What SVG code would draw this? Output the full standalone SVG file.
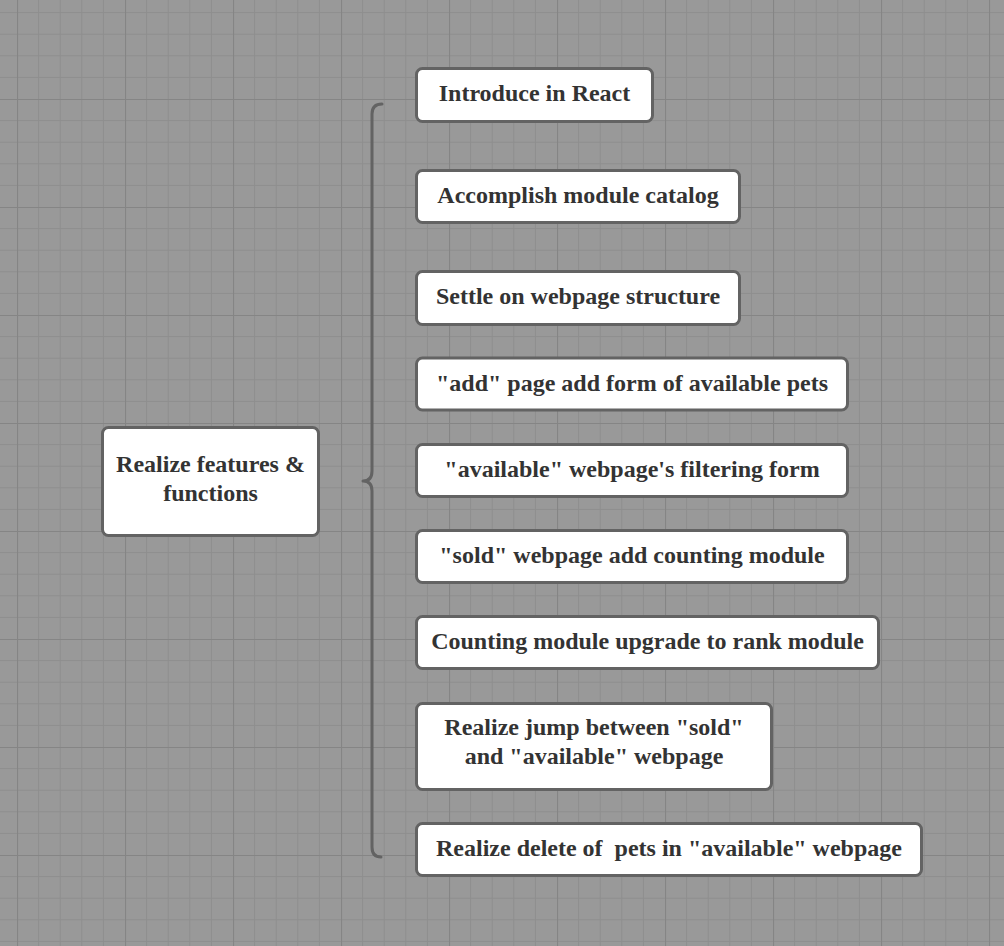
<svg xmlns="http://www.w3.org/2000/svg" width="1004" height="946" viewBox="0 0 1004 946">
<style>
.box{fill:#ffffff;stroke:#636363;stroke-width:3}
.t{font-family:"Liberation Serif","Times New Roman",serif;font-weight:bold;font-size:24px;fill:#333333;text-anchor:middle}
.brace{fill:none;stroke:#636363;stroke-width:3;stroke-linecap:round;stroke-linejoin:round}
</style>
<defs>
<pattern id="grid" x="17" y="-9" width="108" height="108" patternUnits="userSpaceOnUse">
<rect width="108" height="108" fill="#999999"/>
<path d="M21.6 0V108M43.2 0V108M64.8 0V108M86.4 0V108M0 21.6H108M0 43.2H108M0 64.8H108M0 86.4H108" stroke="#8e8e8e" stroke-width="1" fill="none"/>
<path d="M0.5 0V108M0 0.5H108" stroke="#858585" stroke-width="1.2" fill="none"/>
</pattern>
</defs>
<rect width="1004" height="946" fill="url(#grid)"/>
<g id="connectors">
<path class="brace" d="M382 104 Q372 104 372 114 L372 471 Q372 481 363 481 Q372 481 372 491 L372 847 Q372 857 381 857"/>
</g>
<g id="root">
<rect class="box" x="102.5" y="427.5" width="216" height="108" rx="6"/>
<text class="t" x="210.5" y="472">Realize features &amp;</text>
<text class="t" x="210.5" y="501">functions</text>
</g>
<g id="n1">
<rect class="box" x="416.5" y="68.5" width="236" height="53" rx="6"/>
<text class="t" x="534.5" y="101">Introduce in React</text>
</g>
<g id="n2">
<rect class="box" x="416.5" y="170.5" width="323" height="52" rx="6"/>
<text class="t" x="578" y="203">Accomplish module catalog</text>
</g>
<g id="n3">
<rect class="box" x="416.5" y="271.5" width="323" height="53" rx="6"/>
<text class="t" x="578" y="304">Settle on webpage structure</text>
</g>
<g id="n4">
<rect class="box" x="416.5" y="358" width="431" height="52" rx="6"/>
<text class="t" x="632" y="390.5">"add" page add form of available pets</text>
</g>
<g id="n5">
<rect class="box" x="416.5" y="444.5" width="431" height="52" rx="6"/>
<text class="t" x="632" y="477">"available" webpage's filtering form</text>
</g>
<g id="n6">
<rect class="box" x="416.5" y="530.5" width="431" height="52" rx="6"/>
<text class="t" x="632" y="563">"sold" webpage add counting module</text>
</g>
<g id="n7">
<rect class="box" x="416.5" y="616.5" width="462" height="52" rx="6"/>
<text class="t" x="647.5" y="649">Counting module upgrade to rank module</text>
</g>
<g id="n8">
<rect class="box" x="416.5" y="703.5" width="355" height="86" rx="6"/>
<text class="t" x="594" y="735">Realize jump between "sold"</text>
<text class="t" x="594" y="764">and "available" webpage</text>
</g>
<g id="n9">
<rect class="box" x="416.5" y="823.5" width="505" height="52" rx="6"/>
<text class="t" x="669" y="856" xml:space="preserve" style="white-space:pre">Realize delete of  pets in "available" webpage</text>
</g>
</svg>
